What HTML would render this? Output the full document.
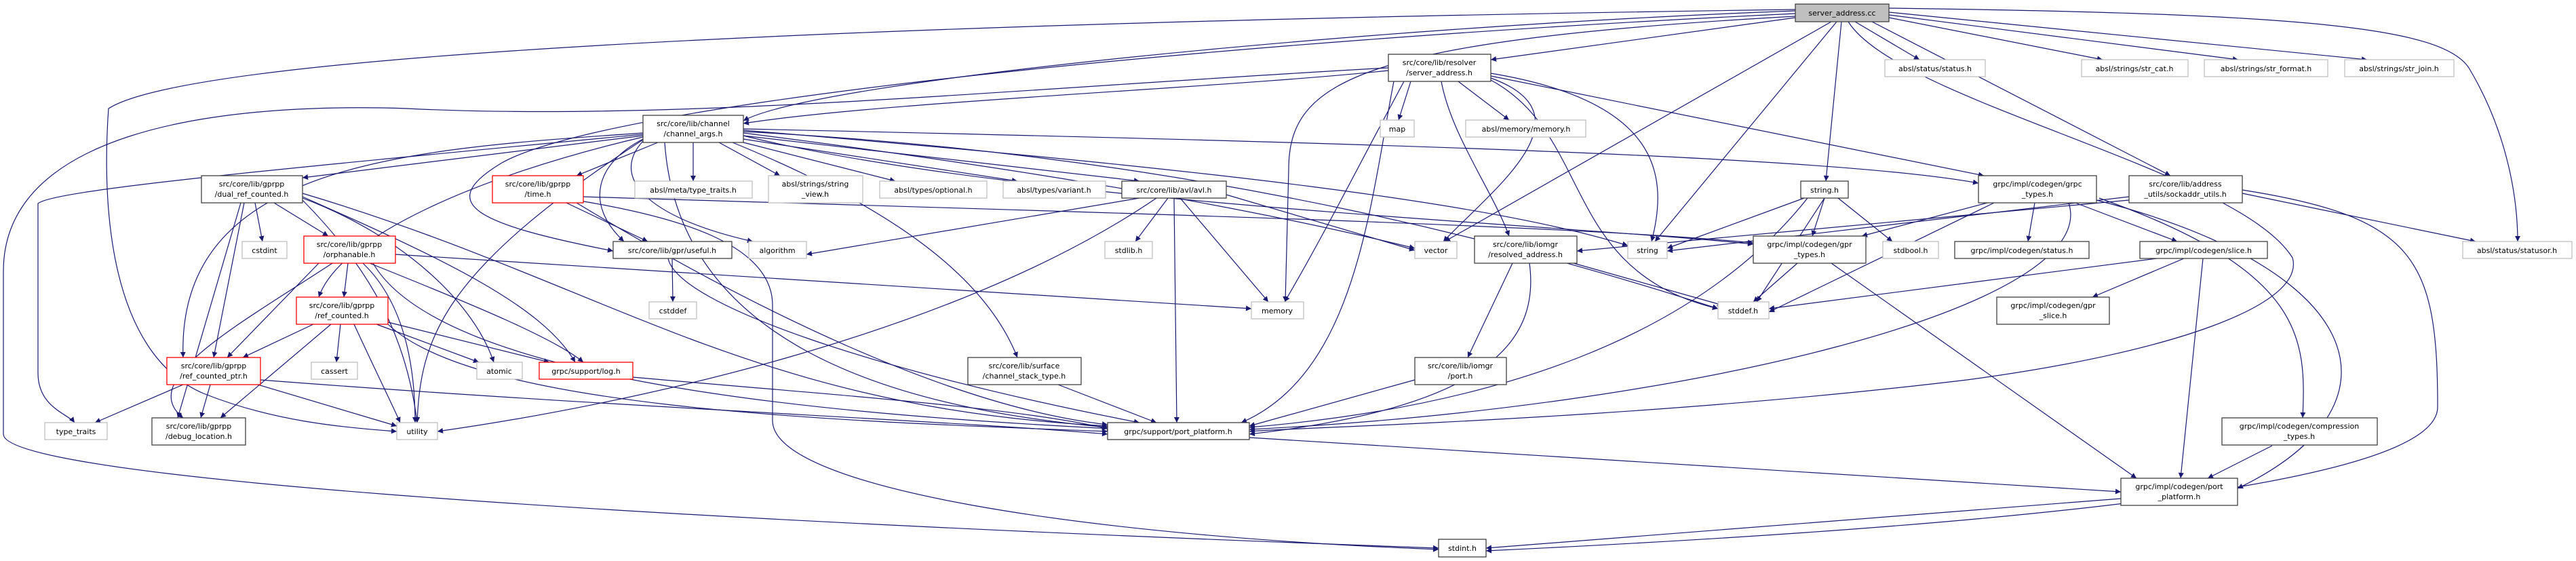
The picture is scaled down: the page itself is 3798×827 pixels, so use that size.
<!DOCTYPE html>
<html><head><meta charset="utf-8"><style>
html,body{margin:0;padding:0;background:#fff;}
svg{display:block;}
text{font-family:"DejaVu Sans","Liberation Sans",sans-serif;font-size:11px;fill:#000;text-anchor:middle;}
.e{fill:none;stroke:#191970;stroke-width:1.2;marker-end:url(#a);}
.n{fill:#fff;stroke:#404040;stroke-width:1.3;}
.g{fill:#fff;stroke:#bfbfbf;stroke-width:1.3;}
.r{fill:#fff;stroke:#ff0000;stroke-width:1.3;}
</style></head><body>
<svg width="3798" height="827" viewBox="0 0 3798 827" xmlns="http://www.w3.org/2000/svg">
<defs><marker id="a" viewBox="0 0 10 10" refX="10" refY="5" markerWidth="10" markerHeight="8" markerUnits="userSpaceOnUse" orient="auto"><path d="M0,0 L10,5 L0,10 z" fill="#191970"/></marker></defs>
<g>
<!-- server_address.cc -->
<path class="e" d="M2647,26 L2198,88"/>
<path class="e" d="M2647,16 C2000,40 1200,120 1096,178"/>
<path class="e" d="M2647,14 C1500,30 300,70 160,160 C150,300 160,520 300,580 C400,620 500,630 585,636"/>
<path class="e" d="M2647,20 C1800,60 900,150 740,240 C640,300 700,330 904,370"/>
<path class="e" d="M2647,24 C2000,60 1900,120 1900,250 L1895,445"/>
<path class="e" d="M2700,32 L2130,356"/>
<path class="e" d="M2708,32 L2440,356"/>
<path class="e" d="M2715,32 L2692,267"/>
<path class="e" d="M2735,32 L2830,88"/>
<path class="e" d="M2760,32 L3200,259"/>
<path class="e" d="M2785,26 L3100,88"/>
<path class="e" d="M2785,22 L3300,88"/>
<path class="e" d="M2785,18 L3490,88"/>
<path class="e" d="M2785,12 C3400,20 3600,40 3640,100 C3700,200 3712,300 3712,356"/>
<path class="e" d="M2725,32 C2800,150 3300,250 3380,380 C3400,450 3200,520 2900,560 C2400,620 1900,630 1842,636"/>
<!-- SAH -->
<path class="e" d="M2047,100 C1500,130 1000,180 600,160 C300,150 5,200 5,400 L5,640 C5,700 800,760 2121,808"/>
<path class="e" d="M2047,104 C1800,130 1300,150 1096,182"/>
<path class="e" d="M2080,120 L2062,177"/>
<path class="e" d="M2150,120 L2225,177"/>
<path class="e" d="M2125,120 C2140,200 2200,280 2225,348"/>
<path class="e" d="M2198,115 C2350,170 2200,280 2128,356"/>
<path class="e" d="M2198,108 C2450,150 2460,260 2435,356"/>
<path class="e" d="M2198,118 C2350,200 2300,400 2533,455"/>
<path class="e" d="M2198,112 L2925,259"/>
<path class="e" d="M2055,120 C2020,300 2000,550 1830,623"/>
<path class="e" d="M2070,120 C2000,250 1950,350 1894,445"/>
<!-- channel_args -->
<path class="e" d="M948,200 L446,262"/>
<path class="e" d="M970,210 L850,259"/>
<path class="e" d="M1022,210 L1022,267"/>
<path class="e" d="M1060,210 L1150,259"/>
<path class="e" d="M1096,210 L1320,267"/>
<path class="e" d="M1096,205 L1500,267"/>
<path class="e" d="M1096,200 L1680,267"/>
<path class="e" d="M948,205 C880,240 860,300 920,356"/>
<path class="e" d="M948,208 C900,260 950,320 1110,356"/>
<path class="e" d="M948,196 C600,220 260,240 270,527"/>
<path class="e" d="M948,202 C700,260 500,350 470,438"/>
<path class="e" d="M948,206 C650,400 620,500 615,623"/>
<path class="e" d="M980,210 C1000,500 1300,600 1633,630"/>
<path class="e" d="M1096,190 C2000,210 2700,230 2917,270"/>
<path class="e" d="M1096,192 C1800,250 2200,300 2400,362"/>
<path class="e" d="M1096,194 C1800,230 2300,380 2533,455"/>
<path class="e" d="M1096,196 C1600,260 1900,320 2086,366"/>
<path class="e" d="M948,198 C400,250 80,280 56,300 L56,550 C56,600 100,610 110,623"/>
<path class="e" d="M1080,210 C1300,300 1450,400 1500,527"/>
<path class="e" d="M1096,200 C1500,300 2300,330 2585,360"/>
<!-- dual_ref_counted -->
<path class="e" d="M376,299 L387,356"/>
<path class="e" d="M404,299 L484,348"/>
<path class="e" d="M360,299 L315,527"/>
<path class="e" d="M355,299 L262,616"/>
<path class="e" d="M446,292 C600,350 700,450 728,534"/>
<path class="e" d="M446,290 C650,380 800,450 848,534"/>
<path class="e" d="M446,285 C900,420 1100,600 1633,628"/>
<path class="e" d="M446,295 C550,400 600,500 615,623"/>
<!-- orphanable -->
<path class="e" d="M513,388 L507,438"/>
<path class="e" d="M470,388 L335,527"/>
<path class="e" d="M490,388 C350,480 200,560 270,616"/>
<path class="e" d="M583,375 L1845,455"/>
<path class="e" d="M550,388 C650,560 1200,610 1640,632"/>
<path class="e" d="M535,388 C600,450 612,550 612,623"/>
<path class="e" d="M545,388 C700,450 820,500 860,534"/>
<!-- ref_counted -->
<path class="e" d="M462,478 L358,527"/>
<path class="e" d="M488,478 L325,616"/>
<path class="e" d="M502,478 L496,534"/>
<path class="e" d="M555,478 L706,534"/>
<path class="e" d="M572,475 L810,534"/>
<path class="e" d="M522,478 C560,560 580,600 590,623"/>
<path class="e" d="M572,478 C700,600 1200,620 1633,636"/>
<!-- ref_counted_ptr -->
<path class="e" d="M270,567 L140,623"/>
<path class="e" d="M310,567 L296,616"/>
<path class="e" d="M380,567 L585,628"/>
<path class="e" d="M384,560 C900,600 1400,620 1633,640"/>
<path class="e" d="M933,556 C1200,580 1500,600 1633,632"/>
<!-- time -->
<path class="e" d="M835,299 L955,356"/>
<path class="e" d="M850,299 C1100,450 1400,600 1633,626"/>
<path class="e" d="M860,290 C1500,310 2300,330 2585,358"/>
<path class="e" d="M855,296 C1000,320 1139,360 1139,450 L1139,620 C1139,720 1600,790 2121,810"/>
<!-- useful -->
<path class="e" d="M991,381 L992,445"/>
<path class="e" d="M985,381 C1000,450 1300,550 1680,623"/>
<!-- avl -->
<path class="e" d="M1680,292 L1189,375"/>
<path class="e" d="M1722,292 L1674,356"/>
<path class="e" d="M1740,292 L1870,445"/>
<path class="e" d="M1731,292 L1735,623"/>
<path class="e" d="M1705,292 C1400,500 900,600 645,636"/>
<path class="e" d="M1808,287 L2086,369"/>
<path class="e" d="M1560,567 L1705,623"/>
<!-- string.h -->
<path class="e" d="M2660,292 L2458,366"/>
<path class="e" d="M2690,292 L2590,445"/>
<path class="e" d="M2690,292 L2672,348"/>
<path class="e" d="M2710,292 L2790,356"/>
<path class="e" d="M2665,292 C2500,500 2200,600 1842,630"/>
<!-- resolved -->
<path class="e" d="M2230,388 L2164,527"/>
<path class="e" d="M2320,388 L2540,450"/>
<path class="e" d="M2255,388 C2270,500 2200,600 1842,640"/>
<path class="e" d="M2086,560 L1842,628"/>
<!-- gpr_types -->
<path class="e" d="M2650,388 L2585,445"/>
<path class="e" d="M2700,388 L3150,705"/>
<!-- grpc_types -->
<path class="e" d="M2930,299 L2745,348"/>
<path class="e" d="M3000,299 L2990,356"/>
<path class="e" d="M3060,299 L3210,356"/>
<path class="e" d="M2940,299 L2608,460"/>
<path class="e" d="M3095,292 C3400,400 3400,500 3395,616"/>
<path class="e" d="M3091,295 C3500,400 3550,600 3299,720"/>
<path class="e" d="M3050,299 C3100,450 2500,600 1842,633"/>
<!-- sockaddr -->
<path class="e" d="M3139,290 L2458,370"/>
<path class="e" d="M3306,285 L3650,356"/>
<path class="e" d="M3306,280 C3560,320 3594,380 3594,600 C3594,680 3300,760 2191,812"/>
<path class="e" d="M3139,295 L2325,370"/>
<!-- slice -->
<path class="e" d="M3220,381 L3085,438"/>
<path class="e" d="M3180,381 L2608,455"/>
<path class="e" d="M3248,381 L3215,705"/>
<path class="e" d="M3350,657 L3255,705"/>
<path class="e" d="M1842,645 L3127,725"/>
<path class="e" d="M3127,735 L2191,808"/>
</g>
<g>
<rect x="2647" y="6" width="138" height="26" fill="#bfbfbf" stroke="#404040" stroke-width="1.3"/><text x="2716" y="23">server_address.cc</text>
<rect class="n" x="2047" y="80" width="151" height="40"/><text x="2122" y="96">src/core/lib/resolver</text><text x="2122" y="111">/server_address.h</text>
<rect class="g" x="2779" y="88" width="148" height="25"/><text x="2853" y="105">absl/status/status.h</text>
<rect class="g" x="3069" y="88" width="157" height="25"/><text x="3147" y="105">absl/strings/str_cat.h</text>
<rect class="g" x="3250" y="88" width="182" height="25"/><text x="3341" y="105">absl/strings/str_format.h</text>
<rect class="g" x="3457" y="88" width="161" height="25"/><text x="3537" y="105">absl/strings/str_join.h</text>
<rect class="g" x="2035" y="177" width="50" height="25"/><text x="2060" y="194">map</text>
<rect class="g" x="2161" y="177" width="177" height="25"/><text x="2250" y="194">absl/memory/memory.h</text>
<rect class="n" x="948" y="170" width="148" height="40"/><text x="1022" y="186">src/core/lib/channel</text><text x="1022" y="201">/channel_args.h</text>
<rect class="n" x="297" y="259" width="149" height="40"/><text x="371" y="275">src/core/lib/gprpp</text><text x="371" y="290">/dual_ref_counted.h</text>
<rect class="r" x="726" y="259" width="134" height="40"/><text x="793" y="275">src/core/lib/gprpp</text><text x="793" y="290">/time.h</text>
<rect class="g" x="936" y="267" width="173" height="25"/><text x="1022" y="284">absl/meta/type_traits.h</text>
<rect class="g" x="1133" y="259" width="139" height="40"/><text x="1202" y="275">absl/strings/string</text><text x="1202" y="290">_view.h</text>
<rect class="g" x="1297" y="267" width="158" height="25"/><text x="1376" y="284">absl/types/optional.h</text>
<rect class="g" x="1479" y="267" width="151" height="25"/><text x="1554" y="284">absl/types/variant.h</text>
<rect class="n" x="1654" y="267" width="154" height="25"/><text x="1731" y="284">src/core/lib/avl/avl.h</text>
<rect class="n" x="2655" y="267" width="70" height="25"/><text x="2690" y="284">string.h</text>
<rect class="n" x="2917" y="259" width="174" height="40"/><text x="3004" y="275">grpc/impl/codegen/grpc</text><text x="3004" y="290">_types.h</text>
<rect class="n" x="3139" y="259" width="167" height="40"/><text x="3222" y="275">src/core/lib/address</text><text x="3222" y="290">_utils/sockaddr_utils.h</text>
<rect class="g" x="357" y="356" width="66" height="25"/><text x="390" y="373">cstdint</text>
<rect class="n" x="904" y="356" width="175" height="25"/><text x="991" y="373">src/core/lib/gpr/useful.h</text>
<rect class="g" x="1104" y="356" width="85" height="25"/><text x="1146" y="373">algorithm</text>
<rect class="g" x="1629" y="356" width="70" height="25"/><text x="1664" y="373">stdlib.h</text>
<rect class="g" x="2086" y="356" width="62" height="25"/><text x="2117" y="373">vector</text>
<rect class="g" x="2400" y="356" width="58" height="25"/><text x="2429" y="373">string</text>
<rect class="g" x="2776" y="356" width="82" height="25"/><text x="2817" y="373">stdbool.h</text>
<rect class="n" x="2882" y="356" width="198" height="25"/><text x="2981" y="373">grpc/impl/codegen/status.h</text>
<rect class="n" x="3155" y="356" width="188" height="25"/><text x="3249" y="373">grpc/impl/codegen/slice.h</text>
<rect class="g" x="3631" y="356" width="161" height="25"/><text x="3711" y="373">absl/status/statusor.h</text>
<rect class="r" x="448" y="348" width="135" height="40"/><text x="515" y="364">src/core/lib/gprpp</text><text x="515" y="379">/orphanable.h</text>
<rect class="n" x="2174" y="348" width="151" height="40"/><text x="2249" y="364">src/core/lib/iomgr</text><text x="2249" y="379">/resolved_address.h</text>
<rect class="n" x="2585" y="348" width="166" height="40"/><text x="2668" y="364">grpc/impl/codegen/gpr</text><text x="2668" y="379">_types.h</text>
<rect class="r" x="437" y="438" width="135" height="40"/><text x="504" y="454">src/core/lib/gprpp</text><text x="504" y="469">/ref_counted.h</text>
<rect class="n" x="2944" y="438" width="166" height="40"/><text x="3027" y="454">grpc/impl/codegen/gpr</text><text x="3027" y="469">_slice.h</text>
<rect class="g" x="957" y="445" width="70" height="25"/><text x="992" y="462">cstddef</text>
<rect class="g" x="1845" y="445" width="77" height="25"/><text x="1883" y="462">memory</text>
<rect class="g" x="2533" y="445" width="75" height="25"/><text x="2570" y="462">stddef.h</text>
<rect class="r" x="246" y="527" width="138" height="40"/><text x="315" y="543">src/core/lib/gprpp</text><text x="315" y="558">/ref_counted_ptr.h</text>
<rect class="n" x="1427" y="527" width="167" height="40"/><text x="1510" y="543">src/core/lib/surface</text><text x="1510" y="558">/channel_stack_type.h</text>
<rect class="n" x="2086" y="527" width="135" height="40"/><text x="2153" y="543">src/core/lib/iomgr</text><text x="2153" y="558">/port.h</text>
<rect class="g" x="459" y="534" width="68" height="25"/><text x="493" y="551">cassert</text>
<rect class="g" x="703" y="534" width="67" height="25"/><text x="736" y="551">atomic</text>
<rect class="r" x="795" y="534" width="138" height="25"/><text x="864" y="551">grpc/support/log.h</text>
<rect class="g" x="66" y="623" width="92" height="25"/><text x="112" y="640">type_traits</text>
<rect class="g" x="585" y="623" width="60" height="25"/><text x="615" y="640">utility</text>
<rect class="n" x="1633" y="623" width="209" height="25"/><text x="1737" y="640">grpc/support/port_platform.h</text>
<rect class="n" x="224" y="616" width="138" height="40"/><text x="293" y="632">src/core/lib/gprpp</text><text x="293" y="647">/debug_location.h</text>
<rect class="n" x="3276" y="616" width="229" height="40"/><text x="3390" y="632">grpc/impl/codegen/compression</text><text x="3390" y="647">_types.h</text>
<rect class="n" x="3127" y="705" width="172" height="40"/><text x="3213" y="721">grpc/impl/codegen/port</text><text x="3213" y="736">_platform.h</text>
<rect class="n" x="2121" y="795" width="70" height="26"/><text x="2156" y="812">stdint.h</text>
</g>
</svg>
</body></html>
